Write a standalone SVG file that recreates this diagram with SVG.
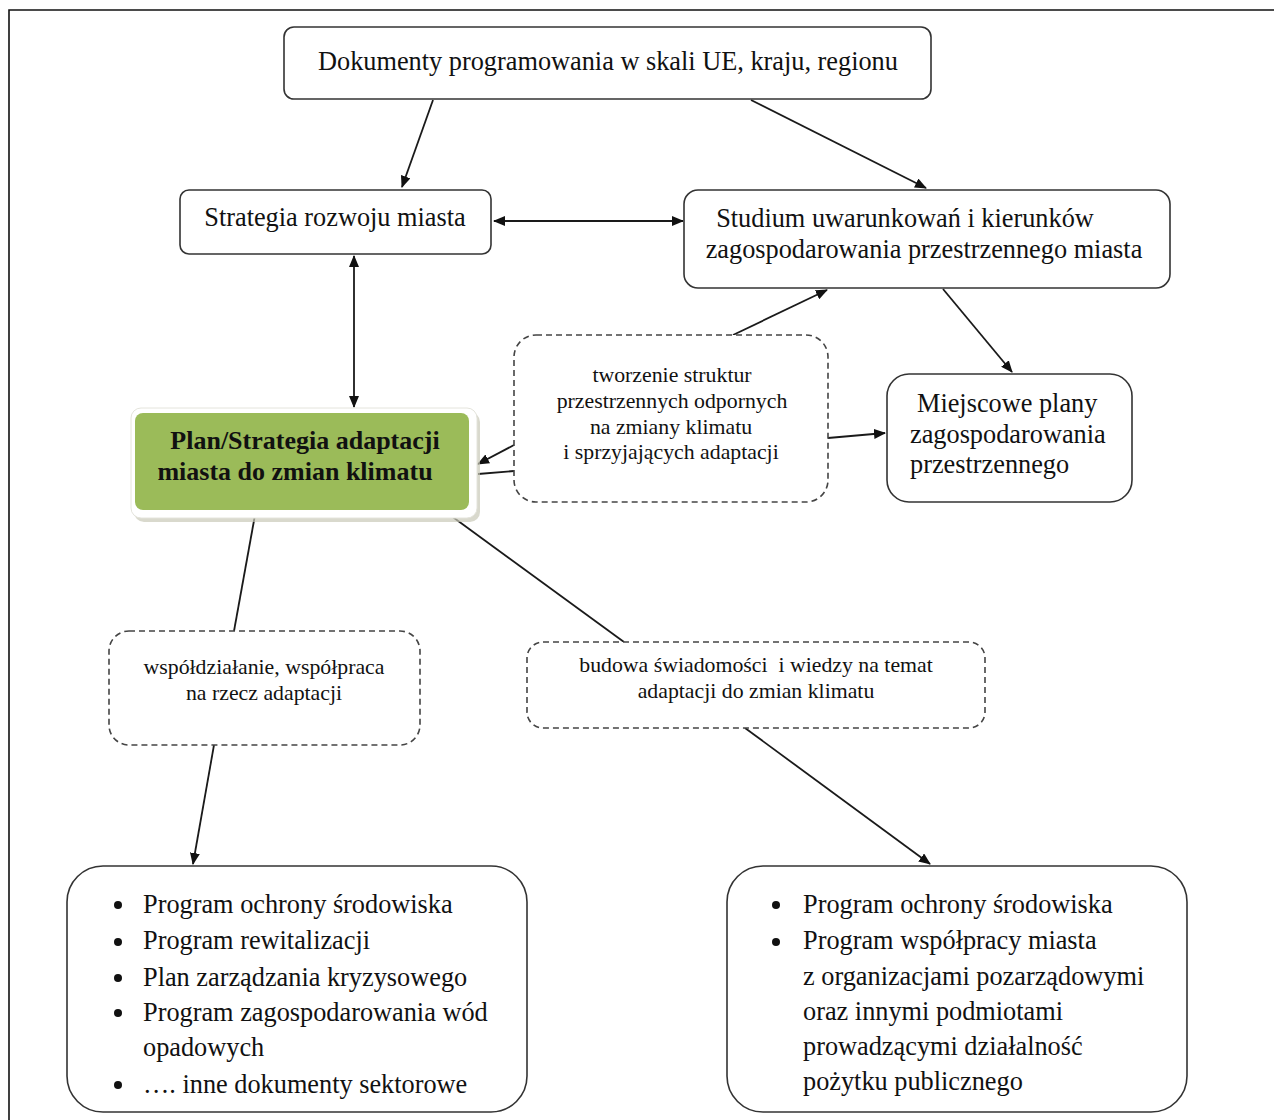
<svg xmlns="http://www.w3.org/2000/svg" width="1274" height="1120" viewBox="0 0 1274 1120">
<style>
.t{font-family:"Liberation Serif","Times New Roman",serif;fill:#111;}
.box{fill:#fff;stroke:#333;stroke-width:1.6;}
.dash{fill:#fff;stroke:#444;stroke-width:1.6;stroke-dasharray:6 4;}
.ln{stroke:#1a1a1a;stroke-width:1.8;fill:none;}
.l24{font-size:26.3px;}
.l18{font-size:21.8px;}
.c{text-anchor:middle;}
</style>
<defs>
<marker id="ah" viewBox="0 0 12 10" refX="11" refY="5" markerWidth="12" markerHeight="10" markerUnits="userSpaceOnUse" orient="auto-start-reverse">
<path d="M0,0 L12,5 L0,10 Z" fill="#111"/>
</marker>
</defs>
<rect width="1274" height="1120" fill="#fff"/>
<path d="M9,1120 V10 H1274" fill="none" stroke="#111" stroke-width="1.6"/>

<g id="connectors">
<line class="ln" x1="433" y1="100" x2="402" y2="187" marker-end="url(#ah)"/>
<line class="ln" x1="751" y1="100" x2="926" y2="188" marker-end="url(#ah)"/>
<line class="ln" x1="494" y1="221" x2="683" y2="221" marker-start="url(#ah)" marker-end="url(#ah)"/>
<line class="ln" x1="354" y1="256" x2="354" y2="407" marker-start="url(#ah)" marker-end="url(#ah)"/>
<line class="ln" x1="514" y1="445" x2="478" y2="464" marker-end="url(#ah)"/>
<line class="ln" x1="514" y1="471" x2="478" y2="474"/>
<line class="ln" x1="733" y1="335" x2="827" y2="290" marker-end="url(#ah)"/>
<line class="ln" x1="943" y1="289" x2="1012" y2="372" marker-end="url(#ah)"/>
<line class="ln" x1="828" y1="438" x2="885" y2="433" marker-end="url(#ah)"/>
<line class="ln" x1="255" y1="515" x2="234" y2="631"/>
<line class="ln" x1="214" y1="745" x2="193" y2="864" marker-end="url(#ah)"/>
<line class="ln" x1="450" y1="515" x2="624" y2="642"/>
<line class="ln" x1="745" y1="728" x2="930" y2="864" marker-end="url(#ah)"/>
</g>

<g id="top">
<rect class="box" x="284" y="27" width="647" height="72" rx="10"/>
<text class="t l24 c" x="608" y="70">Dokumenty programowania w skali UE, kraju, regionu</text>
</g>

<g id="strategia">
<rect class="box" x="180" y="190" width="311" height="64" rx="9"/>
<text class="t l24 c" x="335" y="226">Strategia rozwoju miasta</text>
</g>

<g id="studium">
<rect class="box" x="684" y="190" width="486" height="98" rx="14"/>
<text class="t l24 c" x="905" y="227">Studium uwarunkowań i kierunków</text>
<text class="t l24 c" x="924" y="258">zagospodarowania przestrzennego miasta</text>
</g>

<g id="plan">
<rect x="134" y="412" width="346" height="110" rx="10" fill="#c9c9b8" opacity="0.7"/>
<rect x="131" y="408" width="346" height="110" rx="10" fill="#fff" stroke="#e4e4dc" stroke-width="1"/>
<rect x="135" y="413" width="334" height="97" rx="8" fill="#9bbb59"/>
<text class="t c" x="305" y="449" font-size="26" font-weight="bold">Plan/Strategia adaptacji</text>
<text class="t c" x="295" y="480" font-size="26" font-weight="bold">miasta do zmian klimatu</text>
</g>

<g id="tworzenie">
<rect class="dash" x="514" y="335" width="314" height="167" rx="22"/>
<text class="t l18 c" x="672" y="382">tworzenie struktur</text>
<text class="t l18 c" x="672" y="408">przestrzennych odpornych</text>
<text class="t l18 c" x="671" y="434">na zmiany klimatu</text>
<text class="t l18 c" x="671" y="459">i sprzyjających adaptacji</text>
</g>

<g id="miejscowe">
<rect class="box" x="887" y="374" width="245" height="128" rx="22"/>
<text class="t l24" x="917" y="412">Miejscowe plany</text>
<text class="t l24" x="910" y="443">zagospodarowania</text>
<text class="t l24" x="910" y="473">przestrzennego</text>
</g>

<g id="wspoldzialanie">
<rect class="dash" x="109" y="631" width="311" height="114" rx="20"/>
<text class="t l18 c" x="264" y="674">współdziałanie, współpraca</text>
<text class="t l18 c" x="264" y="700">na rzecz adaptacji</text>
</g>

<g id="budowa">
<rect class="dash" x="527" y="642" width="458" height="86" rx="16"/>
<text class="t l18 c" x="756" y="672" xml:space="preserve">budowa świadomości  i wiedzy na temat</text>
<text class="t l18 c" x="756" y="698">adaptacji do zmian klimatu</text>
</g>

<g id="lista-lewa">
<rect class="box" x="67" y="866" width="460" height="246" rx="36"/>
<g fill="#111">
<circle cx="118" cy="905" r="4"/><circle cx="118" cy="942" r="4"/><circle cx="118" cy="978" r="4"/><circle cx="118" cy="1013" r="4"/><circle cx="118" cy="1085" r="4"/>
</g>
<text class="t l24" x="143" y="913">Program ochrony środowiska</text>
<text class="t l24" x="143" y="949">Program rewitalizacji</text>
<text class="t l24" x="143" y="986">Plan zarządzania kryzysowego</text>
<text class="t l24" x="143" y="1021">Program zagospodarowania wód</text>
<text class="t l24" x="143" y="1056">opadowych</text>
<text class="t l24" x="143" y="1093">…. inne dokumenty sektorowe</text>
</g>

<g id="lista-prawa">
<rect class="box" x="727" y="866" width="460" height="246" rx="36"/>
<g fill="#111">
<circle cx="776" cy="905" r="4"/><circle cx="776" cy="942" r="4"/>
</g>
<text class="t l24" x="803" y="913">Program ochrony środowiska</text>
<text class="t l24" x="803" y="949">Program współpracy miasta</text>
<text class="t l24" x="803" y="985">z organizacjami pozarządowymi</text>
<text class="t l24" x="803" y="1020">oraz innymi podmiotami</text>
<text class="t l24" x="803" y="1055">prowadzącymi działalność</text>
<text class="t l24" x="803" y="1090">pożytku publicznego</text>
</g>
</svg>
